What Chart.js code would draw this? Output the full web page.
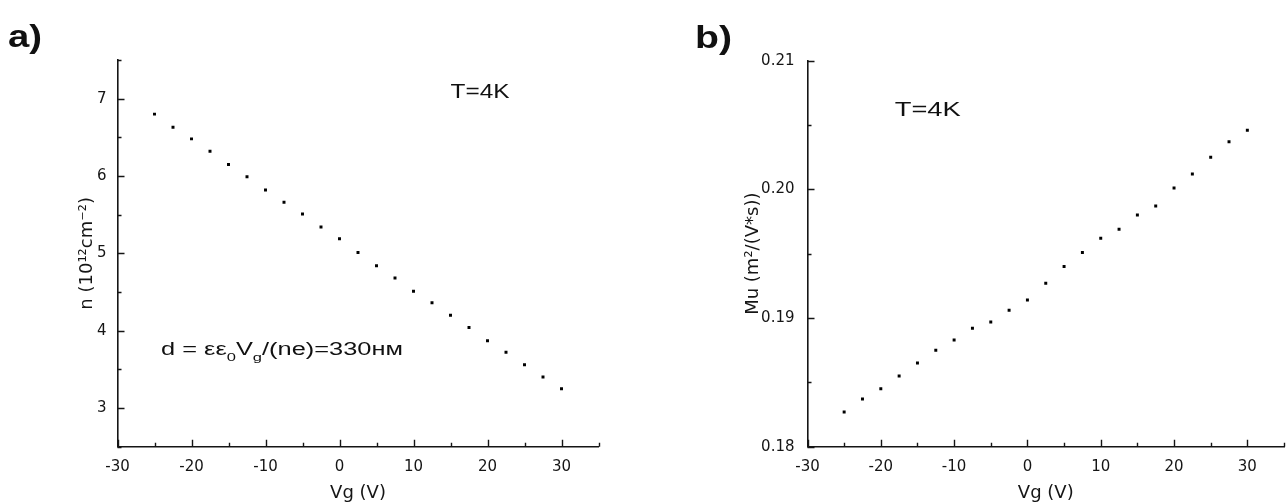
<!DOCTYPE html>
<html>
<head>
<meta charset="utf-8">
<script src="https://cdn.jsdelivr.net/npm/chart.js@4/dist/chart.umd.min.js"></script>
<style>
  html, body { margin: 0; padding: 0; background: #fff; }
  #wrap { position: relative; width: 1288px; height: 504px; overflow: hidden; }
  canvas { position: absolute; top: 0; }
  #ca { left: 0; }
  #cb { left: 644px; }
</style>
</head>
<body>
<div id="wrap">
  <canvas id="ca" width="644" height="504"></canvas>
  <canvas id="cb" width="644" height="504"></canvas>
</div>
<script>
// ---- data ----
const vgValues = [-25, -22.5, -20, -17.5, -15, -12.5, -10, -7.5, -5, -2.5, 0, 2.5, 5, 7.5, 10, 12.5, 15, 17.5, 20, 22.5, 25, 27.5, 30];
const densityValues = [6.80, 6.63, 6.48, 6.32, 6.15, 5.99, 5.82, 5.66, 5.51, 5.34, 5.19, 5.01, 4.84, 4.68, 4.51, 4.36, 4.20, 4.04, 3.87, 3.72, 3.56, 3.40, 3.25];
const mobilityValues = [0.1827, 0.1837, 0.1845, 0.1855, 0.1865, 0.1875, 0.1883, 0.1892, 0.1897, 0.1906, 0.1914, 0.1927, 0.1940, 0.1951, 0.1962, 0.1969, 0.1980, 0.1987, 0.2001, 0.2012, 0.2025, 0.2037, 0.2046];
const xTickLabels = [-30, -20, -10, 0, 10, 20, 30];
const densityTickLabels = [3, 4, 5, 6, 7];
const mobilityTickLabels = ['0.18', '0.19', '0.20', '0.21'];
const titleX = 'Vg (V)';
const titleDensity = 'n (10\u00B9\u00B2cm\u207B\u00B2)';
const titleMobility = 'Mu (m\u00B2/(V*s))';

const AXIS_COLOR = '#151515';
const TICK_FONT = { family: 'DejaVu Sans', size: 15 };
const TITLE_FONT = { family: 'DejaVu Sans', size: 18, lineHeight: 1.2 };

function xLabel(v) {
  const hit = xTickLabels.find(l => Math.abs(l - v) < 1e-9);
  return hit === undefined ? '' : String(hit);
}
function densityLabel(v) {
  const hit = densityTickLabels.find(l => Math.abs(l - v) < 1e-9);
  return hit === undefined ? '' : String(hit);
}
function mobilityLabel(v) {
  const hit = mobilityTickLabels.find(l => Math.abs(parseFloat(l) - v) < 1e-9);
  return hit === undefined ? '' : hit;
}

// stretched text helper (reference text is horizontally widened)
function drawFitText(ctx, parts, cx, cy, baseSize, targetWidth, family, weight, baseline) {
  ctx.save();
  const pieces = parts.map(p => {
    const size = p.sub ? baseSize * 0.65 : baseSize;
    ctx.font = (weight || 'normal') + ' ' + size + 'px ' + family;
    return { t: p.t, sub: p.sub, size, w: ctx.measureText(p.t).width };
  });
  const total = pieces.reduce((s, p) => s + p.w, 0);
  const sx = targetWidth / total;
  ctx.translate(cx - targetWidth / 2, cy);
  ctx.scale(sx, 1);
  ctx.fillStyle = '#111';
  ctx.textBaseline = baseline || 'middle';
  ctx.textAlign = 'left';
  let x = 0;
  pieces.forEach(p => {
    ctx.font = (weight || 'normal') + ' ' + p.size + 'px ' + family;
    ctx.fillText(p.t, x, p.sub ? baseSize * 0.42 : 0);
    x += p.w;
  });
  ctx.restore();
}

function inwardTicks(chart, isMajorX, isMajorY) {
  const { ctx, chartArea, scales } = chart;
  const x = scales.x, y = scales.y;
  ctx.save();
  ctx.strokeStyle = AXIS_COLOR;
  ctx.lineWidth = 1.4;
  ctx.beginPath();
  x.ticks.forEach(t => {
    const px = Math.round(x.getPixelForValue(t.value)) + 0.5;
    const len = isMajorX(t.value) ? 7 : 4;
    ctx.moveTo(px, chartArea.bottom);
    ctx.lineTo(px, chartArea.bottom - len);
  });
  y.ticks.forEach(t => {
    const py = Math.round(y.getPixelForValue(t.value)) + 0.5;
    const len = isMajorY(t.value) ? 7 : 4;
    ctx.moveTo(chartArea.left, py);
    ctx.lineTo(chartArea.left + len, py);
  });
  ctx.stroke();
  ctx.restore();
}

function makeOptions(cfg) {
  return {
    responsive: false,
    maintainAspectRatio: false,
    animation: false,
    devicePixelRatio: 1,
    events: [],
    layout: { padding: cfg.padding },
    plugins: { legend: { display: false }, tooltip: { enabled: false } },
    scales: {
      x: {
        type: 'linear', position: 'bottom', min: -30, max: 35,
        afterFit(s) { s.height = cfg.xHeight; },
        grid: { display: false },
        border: { display: true, color: AXIS_COLOR, width: 1.6 },
        ticks: { stepSize: 5, autoSkip: false, maxRotation: 0, minRotation: 0, padding: 3,
                 color: AXIS_COLOR, font: TICK_FONT, callback: v => xLabel(v) },
        title: { display: true, text: titleX, color: AXIS_COLOR, font: TITLE_FONT, padding: 0 }
      },
      y: {
        type: 'linear', position: 'left', min: cfg.yMin, max: cfg.yMax,
        afterFit(s) { s.width = cfg.yWidth; },
        grid: { display: false },
        border: { display: true, color: AXIS_COLOR, width: 1.6 },
        ticks: { stepSize: cfg.yStep, autoSkip: false, padding: cfg.yTickPad,
                 color: AXIS_COLOR, font: TICK_FONT, callback: cfg.yLabel },
        title: { display: true, text: cfg.yTitle, color: AXIS_COLOR, font: TITLE_FONT,
                 padding: { top: cfg.yTitlePad, bottom: 0 } }
      }
    }
  };
}

function dataset(values) {
  return {
    data: vgValues.map((v, i) => ({ x: v, y: values[i] })),
    pointStyle: 'rect',
    pointRadius: 2.1,
    pointBorderWidth: 0,
    backgroundColor: '#000',
    borderColor: '#000',
    showLine: false
  };
}

// ---- panel a ----
new Chart(document.getElementById('ca'), {
  type: 'scatter',
  data: { datasets: [dataset(densityValues)] },
  options: makeOptions({
    padding: { left: 70, top: 60, right: 45.5, bottom: 0 },
    xHeight: 57.3, yWidth: 47.5, yMin: 2.5, yMax: 7.5, yStep: 0.5, yTickPad: 3,
    yLabel: v => densityLabel(v), yTitle: titleDensity, yTitlePad: 6.5
  }),
  plugins: [{
    id: 'decorA',
    afterDraw(chart) {
      const { ctx, scales: { x, y } } = chart;
      inwardTicks(chart, v => xLabel(v) !== '', v => densityLabel(v) !== '');
      drawFitText(ctx, [{ t: 'a)' }], 25, 47, 32, 34, 'Liberation Sans', 'bold', 'alphabetic');
      drawFitText(ctx, [{ t: 'T=4K' }], x.getPixelForValue(19), y.getPixelForValue(7.08), 19.5, 59, 'Liberation Sans');
      drawFitText(ctx, [{ t: 'd = \u03B5\u03B5' }, { t: '0', sub: true }, { t: 'V' }, { t: 'g', sub: true }, { t: '/(ne)=330\u043D\u043C' }],
        x.getPixelForValue(-7.77), y.getPixelForValue(3.75), 18, 242, 'Liberation Sans');
    }
  }]
});

// ---- panel b ----
new Chart(document.getElementById('cb'), {
  type: 'scatter',
  data: { datasets: [dataset(mobilityValues)] },
  options: makeOptions({
    padding: { left: 90, top: 60.7, right: 2, bottom: 0 },
    xHeight: 57.3, yWidth: 73.5, yMin: 0.18, yMax: 0.21, yStep: 0.005, yTickPad: 5,
    yLabel: v => mobilityLabel(v), yTitle: titleMobility, yTitlePad: 8.2
  }),
  plugins: [{
    id: 'decorB',
    afterDraw(chart) {
      const { ctx, scales: { x, y } } = chart;
      inwardTicks(chart, v => xLabel(v) !== '', v => mobilityLabel(v) !== '');
      drawFitText(ctx, [{ t: 'b)' }], 69.5, 48, 32, 37, 'Liberation Sans', 'bold', 'alphabetic');
      drawFitText(ctx, [{ t: 'T=4K' }], x.getPixelForValue(-13.6), y.getPixelForValue(0.2061), 20, 66, 'Liberation Sans');
    }
  }]
});
</script>
</body>
</html>
